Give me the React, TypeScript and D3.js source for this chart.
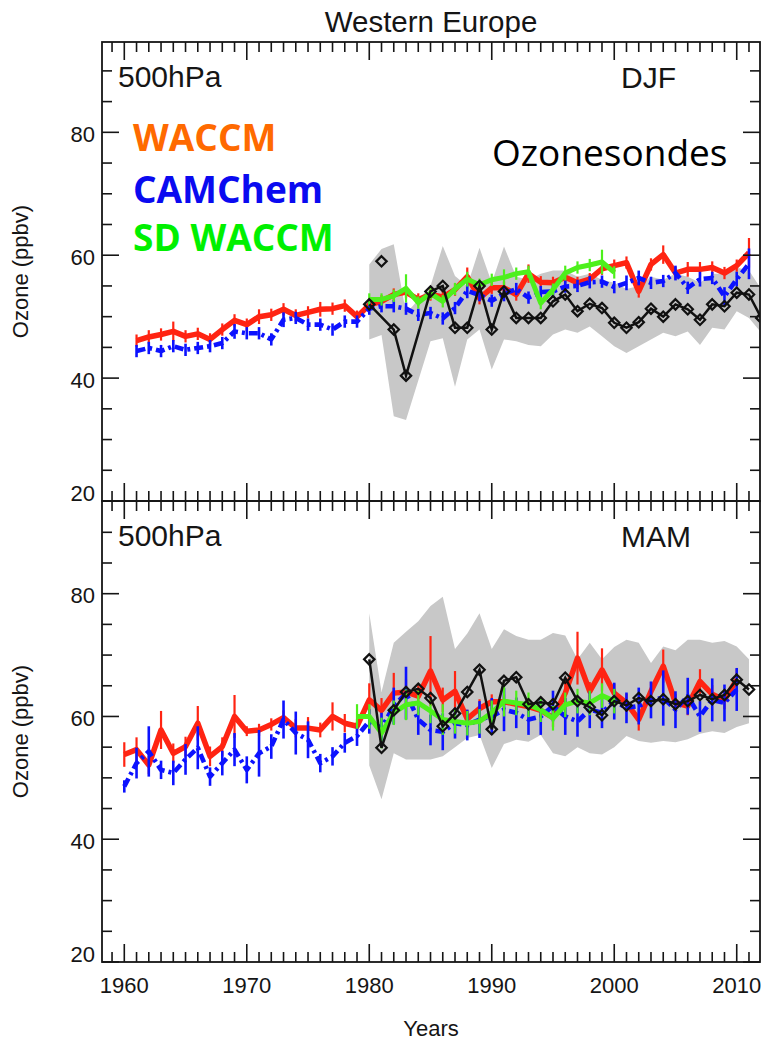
import React from "react";
import * as d3 from "d3";

// ---------- Western Europe, 500 hPa ozone (ppbv) ----------

// DJF (winter) panel
const DJF_MODEL_START = 1961;
const DJF_SD_START = 1980;
const DJF_SONDE_START = 1980;

const djfWaccm = [
  46.1, 46.7, 47.1, 47.6, 46.8, 47.2, 46.3, 47.9, 49.4, 48.7,
  50.0, 50.3, 51.2, 50.2, 50.7, 51.2, 51.3, 51.8, 50.0, 51.9,
  52.5, 53.6, 54.0, 52.8, 53.6, 53.2, 54.4, 56.5, 53.0, 54.7,
  54.7, 53.6, 57.0, 55.6, 55.5, 56.4, 55.5, 56.1, 57.8, 58.3,
  58.8, 54.1, 58.5, 60.1, 57.1, 57.7, 57.7, 58.0, 57.1, 58.3,
  60.4,
];
const djfWaccmErr = [
  1.0, 1.1, 1.0, 1.6, 1.0, 1.0, 1.0, 1.0, 1.0, 1.0,
  1.2, 1.0, 1.0, 1.0, 1.0, 1.2, 1.0, 1.0, 1.0, 1.0,
  1.0, 1.0, 1.0, 1.0, 1.0, 1.0, 1.0, 1.5, 1.0, 1.0,
  1.0, 1.0, 1.5, 1.0, 1.0, 1.0, 1.0, 1.0, 1.0, 1.0,
  1.0, 1.0, 1.0, 1.5, 1.0, 1.2, 1.2, 1.0, 1.0, 1.0,
  2.4,
];
const djfCamChem = [
  44.4, 44.9, 44.4, 45.2, 44.6, 44.9, 45.2, 45.7, 47.6, 47.3,
  47.3, 46.3, 49.5, 49.8, 48.7, 48.7, 47.9, 49.2, 49.2, 51.3,
  51.7, 51.7, 51.3, 50.3, 50.6, 49.7, 51.4, 54.2, 53.5, 52.6,
  53.7, 54.5, 53.1, 54.0, 54.1, 54.9, 55.0, 55.6, 55.7, 54.8,
  55.5, 56.3, 55.5, 55.8, 57.1, 54.7, 56.1, 56.3, 53.3, 56.1,
  58.6,
];
const djfCamChemErr = [
  1.0, 1.0, 1.0, 1.0, 1.0, 1.0, 1.0, 1.0, 1.2, 1.0,
  1.0, 1.0, 1.2, 1.0, 1.0, 1.0, 1.0, 1.0, 1.0, 1.0,
  1.0, 1.0, 1.0, 1.0, 1.0, 1.0, 1.0, 1.2, 1.0, 1.0,
  1.2, 1.0, 1.0, 1.0, 1.0, 1.0, 1.0, 1.0, 1.0, 1.0,
  1.2, 1.2, 1.0, 1.0, 1.2, 1.0, 1.2, 1.0, 1.5, 1.2,
  2.5,
];
const djfSdWaccm = [
  52.8, 52.8, 53.4, 54.6, 52.3, 53.8, 52.5, 54.5, 56.1, 55.2,
  56.0, 56.4, 57.0, 57.3, 52.2, 54.4, 57.1, 58.0, 58.4, 58.9,
  57.2,
];
const djfSdWaccmErr = [
  1.0, 1.0, 1.0, 2.3, 1.0, 1.0, 1.0, 1.0, 1.2, 1.0,
  1.0, 1.3, 1.0, 1.0, 1.0, 1.0, 1.2, 1.0, 1.0, 2.0,
  1.0,
];
const djfSonde = [
  52.0, 59.0, 47.9, 40.4, null, 54.1, 55.0, 48.2, 48.2, 55.0,
  47.9, 54.1, 49.8, 49.8, 49.8, 52.5, 53.6, 50.9, 52.1, 51.4,
  49.0, 48.2, 49.1, 51.3, 50.0, 52.0, 51.2, 49.5, 52.0, 51.7,
  53.9, 53.6, 49.8,
];
const djfSondeHigh = [
  58.5, 61.0, 61.8, 50.5, null, 55.0, 61.5, 56.6, 55.0, 61.2,
  55.5, 61.4, 56.5, 56.0, 57.0, 57.5, 57.5, 56.5, 57.0, 56.0,
  55.5, 54.5, 55.0, 56.5, 56.0, 57.0, 56.5, 55.5, 57.0, 57.0,
  58.0, 57.5, 54.5,
];
const djfSondeLow = [
  46.3, 47.0, 33.8, 33.2, null, 46.0, 46.5, 38.6, 46.3, 47.9,
  41.4, 46.3, 46.0, 45.4, 45.2, 47.1, 47.9, 47.4, 48.4, 46.8,
  45.2, 44.1, 45.2, 46.3, 47.4, 46.8, 47.6, 45.4, 48.2, 47.9,
  50.9, 49.8, 47.4,
];
// years whose sonde mean is shown as a marker only, outside the joined line
const djfSondeUnjoined = [1981];

// MAM (spring) panel
const MAM_MODEL_START = 1960;
const MAM_SD_START = 1979;
const MAM_SONDE_START = 1980;

const mamWaccm = [
  53.8, 54.6, 52.1, 57.8, 54.0, 55.1, 58.9, 53.5, 55.1, 60.0,
  57.6, 57.8, 58.7, 59.8, 58.1, 58.1, 57.8, 60.0, 58.9, 58.4,
  62.7, 61.0, 63.8, 64.0, 63.3, 67.4, 62.7, 64.1, 59.6, 61.3,
  62.4, 62.4, 62.0, 61.6, 61.0, 59.8, 63.8, 69.5, 64.1, 67.6,
  63.8, 62.2, 59.5, 64.1, 68.2, 62.2, 61.7, 65.7, 63.6, 62.7,
  66.0,
];
const mamWaccmErr = [
  2.0, 2.0, 1.5, 3.1, 1.6, 1.6, 2.8, 1.6, 1.5, 3.5,
  0.8, 1.0, 1.0, 1.2, 1.5, 1.8, 1.2, 2.3, 1.5, 1.2,
  2.7, 2.0, 3.3, 2.0, 1.8, 5.7, 2.0, 3.3, 1.5, 1.5,
  1.2, 1.2, 1.0, 1.0, 1.2, 1.5, 2.0, 4.3, 1.5, 3.5,
  1.5, 1.5, 1.8, 1.5, 2.7, 1.5, 1.5, 2.0, 1.5, 1.5,
  1.8,
];
const mamCamChem = [
  48.6, 52.4, 54.3, 51.3, 50.8, 53.0, 54.9, 50.2, 52.4, 54.6,
  51.3, 54.0, 55.1, 59.5, 57.3, 56.2, 52.4, 53.5, 55.7, 56.8,
  59.2, 58.1, 61.7, 63.8, 59.5, 57.8, 57.5, 58.9, 58.6, 59.5,
  60.0, 61.1, 60.6, 59.5, 60.0, 61.7, 60.0, 59.2, 61.1, 60.6,
  62.5, 61.4, 61.7, 62.7, 63.0, 61.1, 63.3, 60.0, 62.7, 62.2,
  64.4,
];
const mamCamChemErr = [
  1.0, 2.5, 4.1, 1.5, 2.0, 2.5, 3.5, 1.5, 2.0, 2.7,
  2.2, 3.8, 2.0, 3.1, 3.5, 3.0, 1.5, 1.5, 1.6, 1.6,
  2.0, 2.5, 3.0, 4.3, 2.5, 2.5, 3.0, 2.5, 2.5, 3.0,
  3.0, 3.5, 2.5, 2.5, 3.0, 2.5, 3.0, 2.5, 3.0, 2.5,
  3.0, 2.5, 3.0, 3.0, 4.5, 3.0, 3.0, 2.5, 3.5, 3.0,
  3.5,
];
const mamSdWaccm = [
  60.0, 60.0, 57.3, 60.6, 61.9, 62.2, 60.9, 59.5, 59.2, 58.9,
  59.2, 60.6, 62.5, 62.2, 61.9, 61.1, 59.7, 61.9, 62.5, 62.2,
  63.4, 62.5,
];
const mamSdWaccmErr = [
  2.0, 2.0, 2.5, 2.0, 2.5, 2.0, 2.0, 2.5, 2.0, 2.0,
  2.0, 2.0, 2.5, 2.0, 2.0, 2.0, 2.0, 2.0, 2.0, 2.0,
  2.0, 2.0,
];
const mamSonde = [
  69.3, 54.9, 61.0, 64.0, 64.5, 63.0, 58.4, 60.5, 64.0, 67.6,
  57.9, 65.8, 66.4, 62.0, 62.3, 62.0, 66.3, 62.5, 61.5, 60.2,
  62.5, 61.8, 63.0, 62.5, 62.8, 62.0, 62.5, 63.5, 62.8, 63.5,
  66.0, 64.4,
];
const mamSondeHigh = [
  76.8, 64.0, 72.0, 73.8, 75.5, 78.0, 79.5, 71.0, 73.5, 76.8,
  71.0, 74.2, 73.1, 72.5, 72.5, 73.6, 73.2, 69.3, 72.0, 69.3,
  71.3, 72.5, 72.0, 68.7, 71.4, 70.8, 72.5, 72.5, 72.0, 72.3,
  71.4, 69.3,
];
const mamSondeLow = [
  52.0, 46.5, 54.0, 53.0, 53.0, 53.0, 53.5, 55.0, 56.5, 57.0,
  51.6, 55.5, 56.2, 55.9, 57.0, 54.0, 53.5, 55.0, 54.0, 53.8,
  55.0, 56.8, 56.0, 55.7, 56.0, 55.8, 56.3, 57.2, 57.6, 57.3,
  58.3, 58.9,
];
const mamSondeUnjoined: number[] = [];

// Axis labels
const yTickLabels = [20, 40, 60, 80];
const xTickLabels = [1960, 1970, 1980, 1990, 2000, 2010];
const legendNames = ["WACCM", "CAMChem", "SD WACCM"];

// ---------- layout & style ----------
const W = 765;
const H = 1040;
const LEFT = 102;
const RIGHT = 760;
const AXIS_FONT = "'Liberation Sans', Arial, Helvetica, sans-serif";
const NOTE_FONT = "'Open Sans', 'DejaVu Sans', sans-serif";
const INK = "#151515";

const COLORS = {
  waccm: "#ff2412",
  camchem: "#0c12ff",
  sd: "#4df01c",
  sonde: "#111111",
  band: "#c8c8c8",
  legendWaccm: "#ff6a00",
  legendCam: "#0a0af0",
  legendSd: "#00f000",
};

const x = d3.scaleLinear().domain([1958.18, 2011.9]).range([LEFT, RIGHT]);

type PanelDef = {
  id: string;
  top: number;
  bottom: number;
  yMax: number;
  season: string;
  modelStart: number;
  sdStart: number;
  sondeStart: number;
  waccm: number[];
  waccmErr: number[];
  cam: number[];
  camErr: number[];
  sd: number[];
  sdErr: number[];
  sonde: (number | null)[];
  sondeHigh: (number | null)[];
  sondeLow: (number | null)[];
  unjoined: number[];
};

const panels: PanelDef[] = [
  {
    id: "djf", top: 42, bottom: 501, yMax: 94.7, season: "DJF",
    modelStart: DJF_MODEL_START, sdStart: DJF_SD_START, sondeStart: DJF_SONDE_START,
    waccm: djfWaccm, waccmErr: djfWaccmErr, cam: djfCamChem, camErr: djfCamChemErr,
    sd: djfSdWaccm, sdErr: djfSdWaccmErr,
    sonde: djfSonde, sondeHigh: djfSondeHigh, sondeLow: djfSondeLow, unjoined: djfSondeUnjoined,
  },
  {
    id: "mam", top: 501, bottom: 962, yMax: 95.1, season: "MAM",
    modelStart: MAM_MODEL_START, sdStart: MAM_SD_START, sondeStart: MAM_SONDE_START,
    waccm: mamWaccm, waccmErr: mamWaccmErr, cam: mamCamChem, camErr: mamCamChemErr,
    sd: mamSdWaccm, sdErr: mamSdWaccmErr,
    sonde: mamSonde, sondeHigh: mamSondeHigh, sondeLow: mamSondeLow, unjoined: mamSondeUnjoined,
  },
];

type SeriesProps = {
  y: d3.ScaleLinear<number, number>;
  start: number;
  values: number[];
  errs: number[];
  color: string;
  width: number;
  errWidth: number;
  dash?: string;
};

function ModelSeries({ y, start, values, errs, color, width, errWidth, dash }: SeriesProps) {
  const line = d3
    .line<number>()
    .x((_, i) => x(start + i))
    .y((v) => y(v));
  return (
    <g>
      {values.map((v, i) => (
        <line
          key={i}
          x1={x(start + i)}
          x2={x(start + i)}
          y1={y(v - errs[i])}
          y2={y(v + errs[i])}
          stroke={color}
          strokeWidth={errWidth}
        />
      ))}
      <path
        d={line(values) || ""}
        fill="none"
        stroke={color}
        strokeWidth={width}
        strokeDasharray={dash}
        strokeLinejoin="round"
      />
    </g>
  );
}

type SondePoint = { year: number; v: number; lo: number; hi: number };

function Sondes({ y, p }: { y: d3.ScaleLinear<number, number>; p: PanelDef }) {
  const pts: SondePoint[] = [];
  p.sonde.forEach((v, i) => {
    if (v == null) return;
    pts.push({
      year: p.sondeStart + i,
      v,
      lo: p.sondeLow[i] as number,
      hi: p.sondeHigh[i] as number,
    });
  });
  const area = d3
    .area<SondePoint>()
    .x((d) => x(d.year))
    .y0((d) => y(d.lo))
    .y1((d) => y(d.hi));
  const line = d3
    .line<SondePoint>()
    .x((d) => x(d.year))
    .y((d) => y(d.v));
  const joined = pts.filter((d) => !p.unjoined.includes(d.year));
  return {
    band: <path d={area(pts) || ""} fill={COLORS.band} stroke="none" />,
    marks: (
      <g>
        <path d={line(joined) || ""} fill="none" stroke={COLORS.sonde} strokeWidth={2.5} />
        {pts.map((d) => {
          const cx = x(d.year);
          const cy = y(d.v);
          const r = 5.2;
          return (
            <path
              key={d.year}
              d={`M${cx},${cy - r}L${cx + r},${cy}L${cx},${cy + r}L${cx - r},${cy}Z`}
              fill="none"
              stroke={COLORS.sonde}
              strokeWidth={2.2}
            />
          );
        })}
      </g>
    ),
  };
}

function PanelView({ p }: { p: PanelDef }) {
  const y = d3.scaleLinear().domain([20, p.yMax]).range([p.bottom, p.top]);
  const clipId = `clip-${p.id}`;
  const sondes = Sondes({ y, p });

  const yearTicks = d3.range(1959, 2012);
  const valueTicks = d3.range(20, p.yMax - 1, 5);
  const tickW = 1.6;

  return (
    <g>
      <defs>
        <clipPath id={clipId}>
          <rect x={LEFT} y={p.top} width={RIGHT - LEFT} height={p.bottom - p.top} />
        </clipPath>
      </defs>

      <g clipPath={`url(#${clipId})`}>
        {sondes.band}
        <ModelSeries y={y} start={p.modelStart} values={p.waccm} errs={p.waccmErr}
          color={COLORS.waccm} width={5.5} errWidth={2.2} />
        <ModelSeries y={y} start={p.modelStart} values={p.cam} errs={p.camErr}
          color={COLORS.camchem} width={4.6} errWidth={2.6} dash="9,4,3,4" />
        <ModelSeries y={y} start={p.sdStart} values={p.sd} errs={p.sdErr}
          color={COLORS.sd} width={5} errWidth={2.2} />
        {sondes.marks}
      </g>

      {/* frame */}
      <rect x={LEFT} y={p.top} width={RIGHT - LEFT} height={p.bottom - p.top}
        fill="none" stroke={INK} strokeWidth={1.8} />

      {/* year ticks on top and bottom edges, pointing inward */}
      {yearTicks.map((yr) => {
        const len = yr % 10 === 0 ? 18 : 10;
        const tx = x(yr);
        return (
          <g key={yr} stroke={INK} strokeWidth={tickW}>
            <line x1={tx} x2={tx} y1={p.top} y2={p.top + len} />
            <line x1={tx} x2={tx} y1={p.bottom} y2={p.bottom - len} />
          </g>
        );
      })}

      {/* value ticks on left and right edges, pointing inward */}
      {valueTicks.map((v) => {
        const len = v % 20 === 0 ? 17 : 10;
        const ty = y(v);
        return (
          <g key={v} stroke={INK} strokeWidth={tickW}>
            <line x1={LEFT} x2={LEFT + len} y1={ty} y2={ty} />
            <line x1={RIGHT} x2={RIGHT - len} y1={ty} y2={ty} />
          </g>
        );
      })}

      {/* value labels */}
      {yTickLabels.map((v) => (
        <text key={v} x={95} y={y(v) + (v === 20 ? -0.5 : 9.5)} textAnchor="end"
          fontFamily={AXIS_FONT} fontSize={22} fill={INK}>
          {v}
        </text>
      ))}

      <text transform={`translate(28,${(p.top + p.bottom) / 2}) rotate(-90)`}
        textAnchor="middle" fontFamily={AXIS_FONT} fontSize={22} fill={INK}>
        Ozone (ppbv)
      </text>

      <text x={118} y={p.top + 45} fontFamily={AXIS_FONT} fontSize={30} fill={INK}>
        500hPa
      </text>
      <text x={621} y={p.top + 46} fontFamily={AXIS_FONT} fontSize={30} fill={INK}>
        {p.season}
      </text>
    </g>
  );
}

export default function App() {
  const bottomPanel = panels[1];
  return (
    <svg width={W} height={H} viewBox={`0 0 ${W} ${H}`}
      style={{ position: "absolute", left: 0, top: 0, background: "#fff" }}>
      <rect width={W} height={H} fill="#fff" />
      <text x={(LEFT + RIGHT) / 2} y={32} textAnchor="middle" fontFamily={AXIS_FONT}
        fontSize={29.5} fill={INK}>
        Western Europe
      </text>

      {panels.map((p) => (
        <PanelView key={p.id} p={p} />
      ))}

      {xTickLabels.map((yr) => (
        <text key={yr} x={x(yr)} y={bottomPanel.bottom + 31} textAnchor="middle"
          fontFamily={AXIS_FONT} fontSize={22} fill={INK}>
          {yr}
        </text>
      ))}
      <text x={(LEFT + RIGHT) / 2} y={1036} textAnchor="middle" fontFamily={AXIS_FONT}
        fontSize={22} fill={INK}>
        Years
      </text>

      {/* legend */}
      <g fontFamily={NOTE_FONT} fontWeight={700} fontSize={37}>
        <text x={133} y={150.5} fill={COLORS.legendWaccm}>{legendNames[0]}</text>
        <text x={133} y={203} fill={COLORS.legendCam}>{legendNames[1]}</text>
        <text x={133} y={250.5} fill={COLORS.legendSd}>{legendNames[2]}</text>
      </g>
      <text x={492} y={166} fontFamily={NOTE_FONT} fontSize={37} fill="#000">
        Ozonesondes
      </text>
    </svg>
  );
}
